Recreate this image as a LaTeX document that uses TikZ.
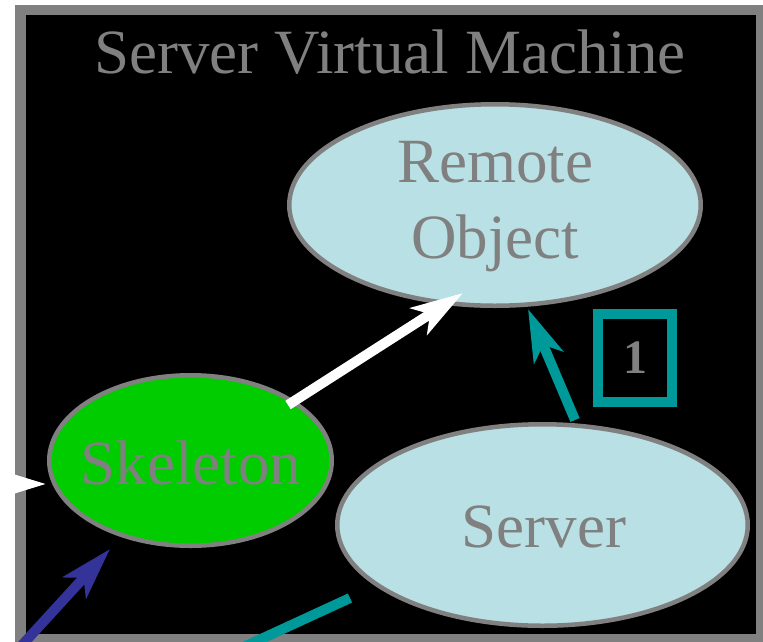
\documentclass[tikz,border=0pt]{standalone}
\usepackage{fontspec}
\setmainfont{Liberation Serif}
\usetikzlibrary{shapes.geometric,arrows.meta,calc}

\definecolor{txtgray}{HTML}{808080}
\definecolor{paleblue}{HTML}{B9E0E4}
\definecolor{skelgreen}{HTML}{00CC00}
\definecolor{tealc}{HTML}{009999}
\definecolor{navyc}{HTML}{333399}

\tikzset{
  blob/.style={ellipse, draw=txtgray, line width=4.5pt, inner sep=0pt},
  bigtext/.style={text=txtgray, font=\fontsize{63}{76}\selectfont, inner sep=0pt},
  link/.style={line width=10pt, -{Stealth[length=52pt, width=31pt, inset=13pt]}},
  plainlink/.style={line width=10pt},
}

\begin{document}
\begin{tikzpicture}[x=1pt, y=-1pt]
\useasboundingbox (0,0) rectangle (763,641);
\clip (0,0) rectangle (763,641);

% machine frame
\draw[draw=txtgray, fill=black, line width=10.5pt] (20.5,10) rectangle (761,639.5);
\node[bigtext, anchor=base] (title) at (390,73) {Server Virtual Machine};

% objects
\node[blob, fill=paleblue, minimum width=411.5pt, minimum height=201.5pt] (remote) at (495,205) {};
\node[blob, fill=skelgreen, minimum width=282.5pt, minimum height=170.5pt] (skel) at (190.5,460.5) {};
\node[blob, fill=paleblue, minimum width=410.5pt, minimum height=201.5pt] (server) at (542.5,525) {};

\node[bigtext, anchor=base] (remotetxt) at (495,182) {Remote};
\node[bigtext, anchor=base] (remotetxt2) at (495,258) {Object};
\node[bigtext, anchor=base] (skeltxt) at (191,484) {Skeleton};
\node[bigtext, anchor=base] (servertxt) at (544,547) {Server};

% step marker
\node[draw=tealc, line width=10pt, minimum width=74pt, minimum height=88pt, inner sep=0pt,
      text=txtgray, font=\fontsize{48}{58}\selectfont\bfseries] (badge) at (635,358) {1};

% loose ends leaving the frame
\coordinate (inTail) at (-120,484);
\coordinate (navyTail) at (2,667);
\coordinate (outEnd) at (157,687);

% connectors
\draw[link, white] ($(skel)+(97.5,-55.5)$) -- ($(remote)+(-32,88)$);
\draw[link, tealc] ($(server)+(32.5,-105)$) -- ($(remote)+(33,104)$);
\draw[link, white] (inTail) -- ($(skel)+(-144.5,23.5)$);
\draw[link, navyc] (navyTail) -- ($(skel)+(-80.5,88.5)$);
\draw[plainlink, tealc] ($(server)+(-192.5,73)$) -- (outEnd);
\end{tikzpicture}
\end{document}
